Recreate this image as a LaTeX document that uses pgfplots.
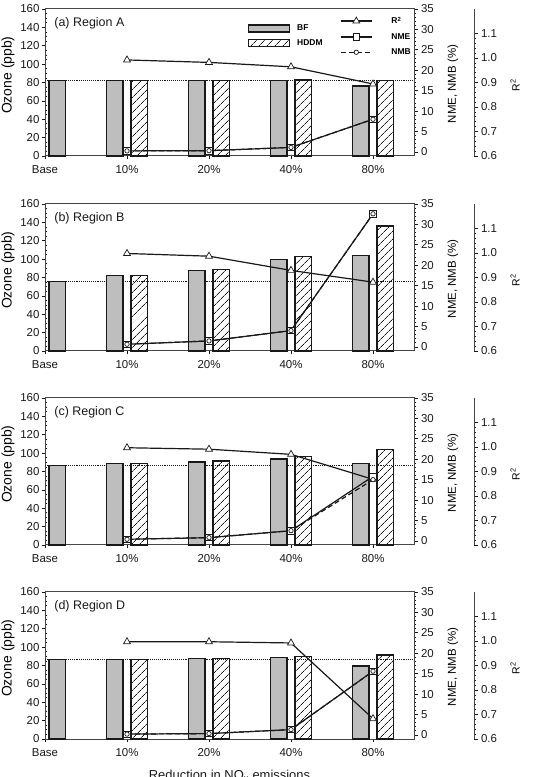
\documentclass[border=0pt]{standalone}
\usepackage{fontspec}
\setmainfont{Liberation Sans}
\usepackage{pgfplots}
\usepackage{pgfplotstable}
\pgfplotsset{compat=1.18}
\usetikzlibrary{patterns.meta}

\definecolor{ink}{RGB}{25,25,25}
\definecolor{frame}{RGB}{70,70,70}
\definecolor{barfill}{RGB}{190,190,190}

% x: 1 = 10%, 2 = 20%, 3 = 40%, 4 = 80% NOx reduction
\pgfplotstableread{
x  bf     hddm   nme   nmb   rsq
1  82.0   82.0   0.25  0.25  0.992
2  82.0   82.0   0.30  0.30  0.982
3  82.0   82.7   1.10  1.10  0.964
4  76.2   82.0   8.00  8.00  0.894
}\regionA
\pgfplotstableread{
x  bf     hddm   nme   nmb   rsq
1  81.8   82.2   0.65  0.65  0.998
2  87.6   88.7   1.46  1.46  0.987
3  99.5   103.2  4.00  4.00  0.929
4  104.3  136.1  32.6  32.6  0.881
}\regionB
\pgfplotstableread{
x  bf     hddm   nme   nmb   rsq
1  88.4   88.7   0.40  0.40  0.997
2  90.2   91.3   0.80  0.80  0.991
3  93.5   96.0   2.50  2.50  0.970
4  88.7   104.0  15.8  15.0  0.868
}\regionC
\pgfplotstableread{
x  bf     hddm   nme   nmb   rsq
1  86.6   86.6   0.20  0.20  0.997
2  87.5   87.5   0.33  0.33  0.997
3  88.6   89.6   1.30  1.30  0.992
4  79.4   91.5   15.6  15.6  0.683
}\regionD

\pgfplotsset{
  panel common/.style={
    scale only axis, width=369bp, height=147bp,
    xmin=0, xmax=4.5, clip=false,
    /pgf/number format/assume math mode=true,
    tick label style={font=\fontsize{11.5}{12}\selectfont, text=ink},
    every tick/.style={ink, line width=0.7bp},
    axis line style={frame, line width=1bp},
    major tick length=3.5bp, minor tick length=2bp,
  },
  ozone axis/.style={
    panel common, ymin=0, ymax=160, ytick={0,20,...,160}, minor y tick num=3,
    xtick={0,1,2,3,4}, xticklabels={Base,10\%,20\%,40\%,80\%},
    xtick pos=bottom, ytick pos=left, tick align=outside,
    xticklabel style={yshift=-2.5bp},
    yticklabel style={xshift=1.5bp},
    minor y tick style={xshift=2bp},
    ylabel={Ozone (ppb)},
    ylabel style={font=\fontsize{14}{16}\selectfont, at={(axis description cs:-0.100,0.55)}, anchor=center},
    legend style={draw=none, fill=none, inner sep=0pt, outer sep=0pt,
      font=\fontsize{8.5}{9}\selectfont\bfseries, row sep=3bp, column sep=5bp,
      cells={anchor=west}, at={(axis description cs:0.55,0.905)}, anchor=north west},
  },
  error axis/.style={
    panel common, ymin=-1, ymax=35, ytick={0,5,...,35}, minor y tick num=4,
    axis y line*=right, axis x line=none, tick align=outside,
    y axis line style={-},
    ylabel={NME, NMB (\%)},
    ylabel style={font=\fontsize{11.5}{13}\selectfont, at={(axis description cs:1.1057,0.49)}, anchor=center},
    legend style={draw=none, fill=none, inner sep=0pt, outer sep=0pt,
      font=\fontsize{8.5}{9}\selectfont\bfseries, row sep=4bp, column sep=17bp,
      cells={anchor=west}, at={(axis description cs:0.80,0.96)}, anchor=north west},
  },
  rsq axis/.style={
    panel common, ymin=0.6, ymax=1.2, ytick={0.6,0.7,0.8,0.9,1.0,1.1}, minor y tick num=4,
    axis y line*=right, axis y line shift=60bp, axis x line=none, tick align=outside,
    y axis line style={-},
    yticklabel style={/pgf/number format/.cd, fixed, fixed zerofill, precision=1},
    ylabel={R\textsuperscript{2}},
    ylabel style={font=\fontsize{10.5}{12}\selectfont, at={(axis description cs:1.2737,0.48)}, anchor=center},
  },
  bf bar/.style={ybar, bar width=0.2, bar shift=0pt, fill=barfill, draw=ink, line width=1.3bp},
  hddm bar/.style={ybar, bar width=0.2, bar shift=0pt, draw=ink, line width=1.3bp,
    pattern={Lines[angle=45, distance=6bp, line width=0.9bp]}, pattern color=ink},
  bar key/.style={legend image code/.code={\draw[#1] (0bp,-3.5bp) rectangle (41bp,3.5bp);}},
  trend key/.style={legend image code/.code={\draw[mark repeat=2, mark phase=2, #1] plot coordinates {(0bp,0bp) (15.5bp,0bp) (31bp,0bp)};}},
  rsq line/.style={ink, line width=1.2bp, mark=triangle*, mark size=4bp, mark options={fill=white, line width=0.7bp, solid}},
  nme line/.style={ink, line width=1.2bp, mark=square*, mark size=3.2bp, mark options={fill=white, line width=0.7bp, solid}},
  nmb line/.style={ink, line width=1.2bp, dash pattern=on 5bp off 3bp, mark=*, mark size=2.2bp, mark options={fill=white, line width=0.7bp, solid}},
}

% #1 data, #2 base-case ozone, #3 title, #4 bottom edge, #5 / #6 extra options of the bar / error axes
\newcommand{\regionpanel}[6]{%
  \begin{axis}[ozone axis, at={(45bp,#4)}, #5]
    \addplot[ink, densely dotted, line width=1.1bp, forget plot] coordinates {(0,#2) (4.5,#2)};
    \addplot[bf bar, forget plot] coordinates {(0.15,#2)};
    \addplot[bf bar, bar key] table[x expr=\thisrow{x}-0.15, y=bf] {#1};
    \addplot[hddm bar, bar key] table[x expr=\thisrow{x}+0.15, y=hddm] {#1};
    \node[anchor=west, font=\fontsize{12.5}{14}\selectfont, text=ink] at (axis description cs:0.016,0.905) {#3};
  \end{axis}
  \begin{axis}[rsq axis, at={(45bp,#4)}]
    \addplot[rsq line] table[x=x, y=rsq] {#1};
  \end{axis}
  \begin{axis}[error axis, at={(45bp,#4)}, trend key, #6]
    \addlegendimage{rsq line}
    \addplot[nme line] table[x=x, y=nme] {#1};
    \addplot[nmb line] table[x=x, y=nmb] {#1};
  \end{axis}%
}

\begin{document}
\begin{tikzpicture}
  \useasboundingbox (0,0) rectangle (549bp,777bp);
  \regionpanel{\regionA}{82.0}{(a) Region A}{621bp}{legend entries={BF,HDDM}}{legend entries={R\textsuperscript{2},NME,NMB}}
  \regionpanel{\regionB}{76.0}{(b) Region B}{426bp}{}{}
  \regionpanel{\regionC}{86.5}{(c) Region C}{232bp}{}{}
  \regionpanel{\regionD}{86.5}{(d) Region D}{38bp}{}{}
  \node[anchor=base, font=\fontsize{13}{15}\selectfont, text=ink] at (229.5bp,-2.3bp) {Reduction in NO\textsubscript{x} emissions};
\end{tikzpicture}
\end{document}
